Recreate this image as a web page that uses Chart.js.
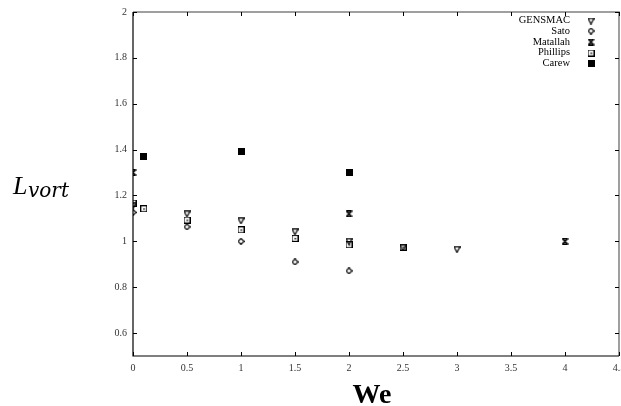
<!DOCTYPE html>
<html>
<head>
<meta charset="utf-8">
<script src="https://cdn.jsdelivr.net/npm/chart.js@4/dist/chart.umd.min.js"></script>
<style>
  html, body { margin: 0; padding: 0; background: #fff; overflow: hidden; }
  #wrap { width: 640px; height: 406px; }
</style>
</head>
<body>
<div id="wrap"><canvas id="chart" width="640" height="406"></canvas></div>
<script>
// data
const xTicks = [0, 0.5, 1, 1.5, 2, 2.5, 3, 3.5, 4, 4.5];
const yTicks = [0.6, 0.8, 1, 1.2, 1.4, 1.6, 1.8, 2];

const seriesNames = ['GENSMAC', 'Sato', 'Matallah', 'Phillips', 'Carew'];

const gensmacWe = [0, 0.5, 1, 1.5, 2, 2.5, 3];
const gensmacL  = [1.155, 1.12, 1.09, 1.042, 1.0, 0.972, 0.965];
const satoWe = [0, 0.5, 1, 1.5, 2];
const satoL  = [1.126, 1.063, 1.0, 0.91, 0.871];
const matallahWe = [0, 2, 4];
const matallahL  = [1.30, 1.12, 1.0];
const phillipsWe = [0, 0.1, 0.5, 1, 1.5, 2, 2.5];
const phillipsL  = [1.167, 1.142, 1.093, 1.05, 1.013, 0.985, 0.975];
const carewWe = [0.1, 1, 2];
const carewL  = [1.371, 1.393, 1.30];

// small marker images, drawn once
function makeMarker(kind) {
  const c = document.createElement('canvas');
  c.width = 7; c.height = 7;
  const g = c.getContext('2d');
  g.strokeStyle = '#000';
  g.fillStyle = '#000';
  g.lineWidth = 1.2;
  if (kind === 'tri') {
    g.beginPath();
    g.moveTo(0.5, 0.8); g.lineTo(6.5, 0.8); g.lineTo(3.5, 6.5); g.closePath();
    g.stroke();
  } else if (kind === 'diamond') {
    g.beginPath();
    g.moveTo(3.5, 0.5); g.lineTo(6.5, 3.5); g.lineTo(3.5, 6.5); g.lineTo(0.5, 3.5); g.closePath();
    g.stroke();
  } else if (kind === 'star') {
    g.lineWidth = 1.5;
    g.beginPath();
    g.moveTo(0.5, 0.5); g.lineTo(6.5, 6.5);
    g.moveTo(6.5, 0.5); g.lineTo(0.5, 6.5);
    g.moveTo(0.5, 0.8); g.lineTo(6.5, 0.8);
    g.moveTo(0.5, 6.2); g.lineTo(6.5, 6.2);
    g.stroke();
  } else if (kind === 'box') {
    g.strokeRect(0.5, 0.5, 6, 6);
    g.fillRect(3, 3, 1.5, 1.5);
  } else {
    g.fillRect(0, 0, 7, 7);
  }
  return c;
}

const markers = [makeMarker('tri'), makeMarker('diamond'), makeMarker('star'), makeMarker('box'), makeMarker('fill')];

function pts(xs, ys) {
  return xs.map((x, i) => ({ x: x, y: ys[i] }));
}

const datasets = [
  { label: seriesNames[0], data: pts(gensmacWe, gensmacL) },
  { label: seriesNames[1], data: pts(satoWe, satoL) },
  { label: seriesNames[2], data: pts(matallahWe, matallahL) },
  { label: seriesNames[3], data: pts(phillipsWe, phillipsL) },
  { label: seriesNames[4], data: pts(carewWe, carewL) }
].map((d, i) => Object.assign(d, {
  pointStyle: markers[i],
  pointRadius: 4,
  showLine: false
}));

const tickFont = { family: '"Liberation Serif", serif', size: 10 };

// frame, inward ticks, titles and legend
const decorPlugin = {
  id: 'decor',
  afterDraw(chart) {
    const ctx = chart.ctx;
    const a = chart.chartArea;
    const xs = chart.scales.x, ys = chart.scales.y;
    ctx.save();

    // frame
    ctx.lineWidth = 1.5;
    ctx.strokeStyle = '#808080';
    ctx.beginPath();
    ctx.moveTo(a.left, a.top); ctx.lineTo(a.right, a.top); ctx.lineTo(a.right, a.bottom);
    ctx.stroke();
    ctx.strokeStyle = '#000';
    ctx.lineWidth = 1.2;
    ctx.beginPath();
    ctx.moveTo(a.left, a.top); ctx.lineTo(a.left, a.bottom); ctx.lineTo(a.right, a.bottom);
    ctx.stroke();

    // inward tick marks on all four sides
    ctx.lineWidth = 1;
    ctx.strokeStyle = '#000';
    ctx.beginPath();
    xTicks.forEach(v => {
      const px = Math.round(xs.getPixelForValue(v)) + 0.5;
      ctx.moveTo(px, a.bottom); ctx.lineTo(px, a.bottom - 4);
      ctx.moveTo(px, a.top); ctx.lineTo(px, a.top + 4);
    });
    yTicks.forEach(v => {
      const py = Math.round(ys.getPixelForValue(v)) + 0.5;
      ctx.moveTo(a.left, py); ctx.lineTo(a.left + 4, py);
      ctx.moveTo(a.right, py); ctx.lineTo(a.right - 4, py);
    });
    ctx.stroke();

    // x title
    ctx.fillStyle = '#000';
    ctx.textAlign = 'center';
    ctx.textBaseline = 'alphabetic';
    ctx.font = 'bold 28px "Liberation Serif", serif';
    ctx.fillText('We', 372, 403);

    // y title L_vort
    ctx.textAlign = 'left';
    ctx.font = 'italic 26px "Liberation Serif", serif';
    ctx.fillText('L', 13, 194);
    ctx.font = 'italic 20px "DejaVu Serif", serif';
    ctx.fillText('vort', 28, 197);

    // legend, text right aligned with marker on the right
    ctx.font = '10.5px "Liberation Serif", serif';
    ctx.textAlign = 'right';
    ctx.textBaseline = 'middle';
    seriesNames.forEach((name, i) => {
      const y = 20.7 + i * 10.6;
      ctx.fillText(name, 570, y);
      const m = markers[i];
      ctx.drawImage(m, 591 - m.width / 2, Math.round(y) - m.height / 2);
    });

    ctx.restore();
  }
};

new Chart(document.getElementById('chart'), {
  type: 'scatter',
  data: { datasets: datasets },
  options: {
    responsive: false,
    animation: false,
    layout: { padding: { left: 0, right: 21, top: 12, bottom: 0 } },
    plugins: { legend: { display: false }, tooltip: { enabled: false } },
    scales: {
      x: {
        type: 'linear',
        min: 0,
        max: 4.5,
        afterBuildTicks: s => { s.ticks = xTicks.map(v => ({ value: v })); },
        afterFit: s => { s.height = 50; },
        grid: { display: false, drawTicks: false },
        border: { display: false },
        ticks: {
          font: tickFont,
          color: '#333',
          padding: 6,
          maxRotation: 0,
          autoSkip: false,
          callback: v => String(v)
        }
      },
      y: {
        min: 0.5,
        max: 2,
        afterBuildTicks: s => { s.ticks = yTicks.map(v => ({ value: v })); },
        afterFit: s => { s.width = 133; },
        grid: { display: false, drawTicks: false },
        border: { display: false },
        ticks: {
          font: tickFont,
          color: '#333',
          padding: 6,
          autoSkip: false,
          callback: v => String(v)
        }
      }
    }
  },
  plugins: [decorPlugin]
});
</script>
</body>
</html>
